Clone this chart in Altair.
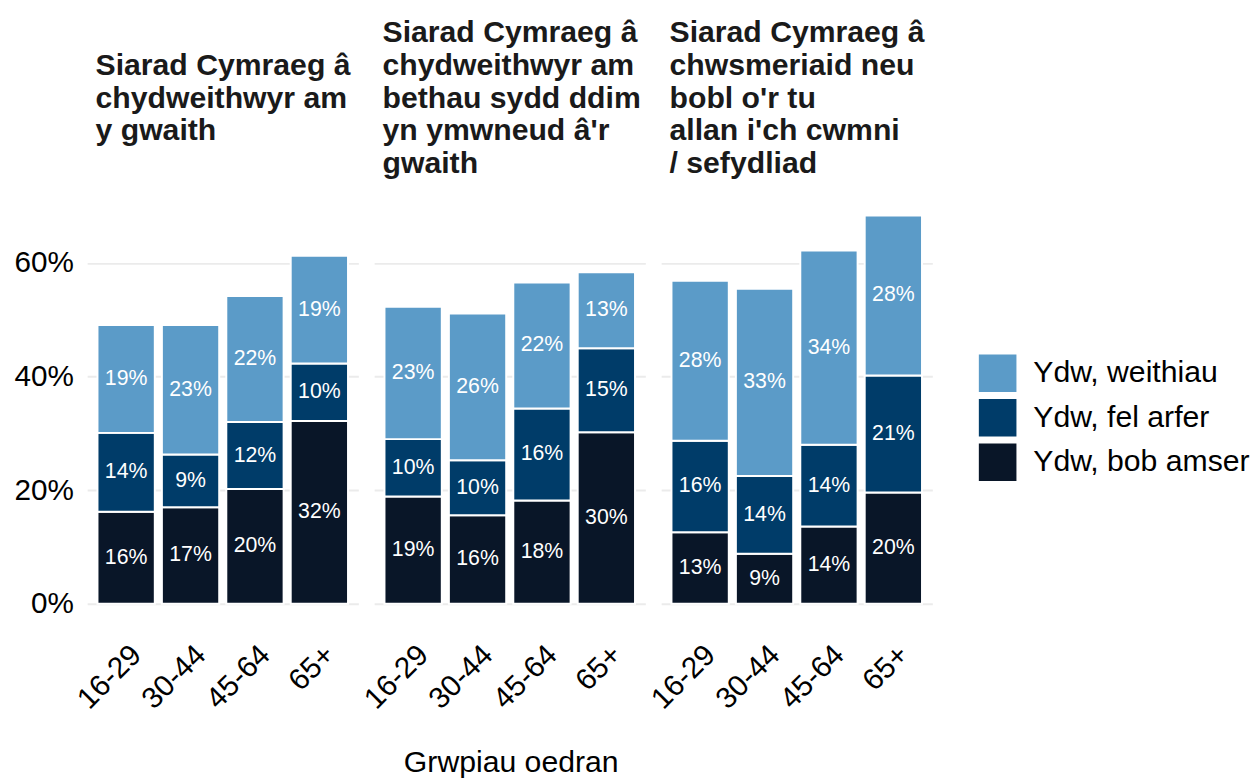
import altair as alt
import pandas as pd

panel_titles = [
    "Siarad Cymraeg â|chydweithwyr am|y gwaith|",
    "Siarad Cymraeg â|chydweithwyr am|bethau sydd ddim|yn ymwneud â'r|gwaith",
    "Siarad Cymraeg â|chwsmeriaid neu|bobl o'r tu|allan i'ch cwmni|/ sefydliad",
]
age_groups = ["16-29", "30-44", "45-64", "65+"]
series = ["Ydw, weithiau", "Ydw, fel arfer", "Ydw, bob amser"]
colors = ["#5b9bc8", "#003c69", "#091628"]

# percentages per panel (rows) and age group (columns)
bob_amser = [[16.2, 17.0, 20.2, 32.2], [18.9, 15.6, 18.2, 30.2], [12.6, 8.8, 13.6, 19.6]]
fel_arfer = [[13.9, 9.3, 11.8, 10.1], [10.1, 9.7, 16.2, 14.8], [16.1, 13.7, 14.4, 20.6]]
weithiau = [[19.0, 22.8, 22.2, 19.0], [23.3, 25.8, 22.2, 13.4], [28.2, 33.0, 34.2, 28.2]]

rows = []
for pi, panel in enumerate(panel_titles):
    for ai, age in enumerate(age_groups):
        for order, (name, vals) in enumerate(
            [("Ydw, bob amser", bob_amser), ("Ydw, fel arfer", fel_arfer), ("Ydw, weithiau", weithiau)]
        ):
            rows.append({"panel": panel, "age": age, "series": name, "ord": order, "value": vals[pi][ai]})
df = pd.DataFrame(rows)

FONT = "Liberation Sans"
INDENT = "\u200b\u00a0"  # small left indent that survives text trimming

x_enc = alt.X(
    "age:N",
    sort=age_groups,
    scale=alt.Scale(paddingInner=0.11, paddingOuter=0.16),
    axis=alt.Axis(
        title=None,
        labelAngle=-45,
        labelAlign="right",
        labelBaseline="top",
        labelFontSize=30,
        labelPadding=35,
        labelColor="#000000",
        domain=False,
        ticks=False,
        tickSize=0,
        grid=False,
    ),
)

y_scale = alt.Scale(domain=[0, 71.8], nice=False)

bars = alt.Chart().mark_bar(stroke="white", strokeWidth=2).encode(
    x=x_enc,
    y=alt.Y(
        "y1:Q",
        scale=y_scale,
        axis=alt.Axis(
            values=[0, 20, 40, 60],
            labelExpr="datum.value + '%'",
            title=None,
            domain=False,
            ticks=False,
            tickSize=0,
            labelFontSize=30,
            labelPadding=14,
            labelColor="#000000",
            gridColor="#ebebeb",
            gridWidth=2,
        ),
    ),
    y2="y0:Q",
    color=alt.Color(
        "series:N",
        scale=alt.Scale(domain=series, range=colors),
        legend=alt.Legend(
            title=None,
            orient="none",
            legendX=901,
            legendY=160,
            symbolType="square",
            symbolSize=1444,
            symbolStrokeWidth=0,
            labelFontSize=30.5,
            labelOffset=17,
            labelLimit=400,
            rowPadding=7,
            padding=0,
            labelColor="#000000",
        ),
    ),
)

text = alt.Chart().mark_text(color="white", fontSize=21.5, font=FONT).encode(
    x=alt.X("age:N", sort=age_groups),
    y=alt.Y("mid:Q", scale=y_scale),
    text="label:N",
)

chart = (
    alt.layer(bars, text, data=df)
    .transform_stack(stack="value", as_=["y0", "y1"], groupby=["panel", "age"], sort=[alt.SortField("ord")])
    .transform_calculate(mid="(datum.y0 + datum.y1) / 2", label="format(datum.value, '.0f') + '%'")
    .properties(width=274, height=412)
    .facet(
        column=alt.Column(
            "panel:N",
            sort=panel_titles,
            header=alt.Header(
                title=None,
                labelExpr="split('" + INDENT + "' + replace(datum.value, regexp('[|]', 'g'), '|" + INDENT + "'), '|')",
                labelAlign="left",
                labelAnchor="start",
                labelFontSize=30.5,
                labelFontWeight="bold",
                labelLineHeight=33,
                labelBaseline="middle",
                labelColor="#1a1a1a",
                labelFont=FONT,
                labelPadding=2,
            ),
        ),
        spacing=16,
    )
    .properties(
        title=alt.TitleParams(
            "Grwpiau oedran",
            orient="bottom",
            anchor="middle",
            fontSize=30.5,
            fontWeight="normal",
            color="#000000",
            font=FONT,
            offset=34,
            dx=-122,
        )
    )
    .configure(font=FONT, padding={"left": 5, "top": 6, "right": 0, "bottom": 0})
    .configure_view(stroke=None)
)

chart.save("out.html", embed_options={"renderer": "svg", "actions": False})
